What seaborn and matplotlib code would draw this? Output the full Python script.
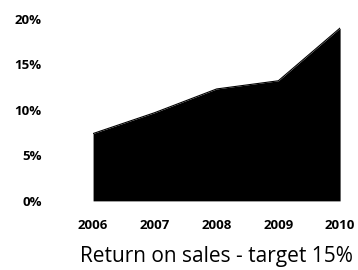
import matplotlib
matplotlib.use("Agg")
import matplotlib.pyplot as plt
import seaborn as sns
import pandas as pd

years = [2006, 2007, 2008, 2009, 2010]
return_on_sales = [7.4, 9.7, 12.3, 13.2, 19.0]
y_ticks = [0, 5, 10, 15, 20]
y_labels = ["0%", "5%", "10%", "15%", "20%"]
title = "Return on sales - target 15%"

sns.set_style("white")
plt.rcParams["font.family"] = ["Open Sans", "DejaVu Sans"]
plt.rcParams["text.color"] = "black"
plt.rcParams["xtick.color"] = "black"
plt.rcParams["ytick.color"] = "black"
plt.rcParams["axes.labelcolor"] = "black"

df = pd.DataFrame({"year": years, "ros": return_on_sales})

fig = plt.figure(figsize=(3.58, 2.70), dpi=100)
ax = fig.add_axes([0.26, 0.256, 0.69, 0.674])

sns.lineplot(data=df, x="year", y="ros", color="black", linewidth=0.8, ax=ax)
ax.fill_between(df["year"], 0, df["ros"], color="black", linewidth=0)

ax.set_xlim(2006, 2010)
ax.set_ylim(0, 20)
ax.set_xticks(years)
ax.set_xticklabels([str(y) for y in years], fontsize=9.5, fontweight="bold")
ax.set_yticks(y_ticks)
ax.set_yticklabels(y_labels, fontsize=9.5, fontweight="bold")
ax.tick_params(axis="y", length=0, pad=37)
ax.tick_params(axis="x", length=0, pad=13)

ax.set_ylabel("")
ax.set_xlabel(title, fontsize=15, labelpad=10)
sns.despine(ax=ax, left=True, bottom=True)

fig.savefig("out.png", dpi=100)
plt.close(fig)
